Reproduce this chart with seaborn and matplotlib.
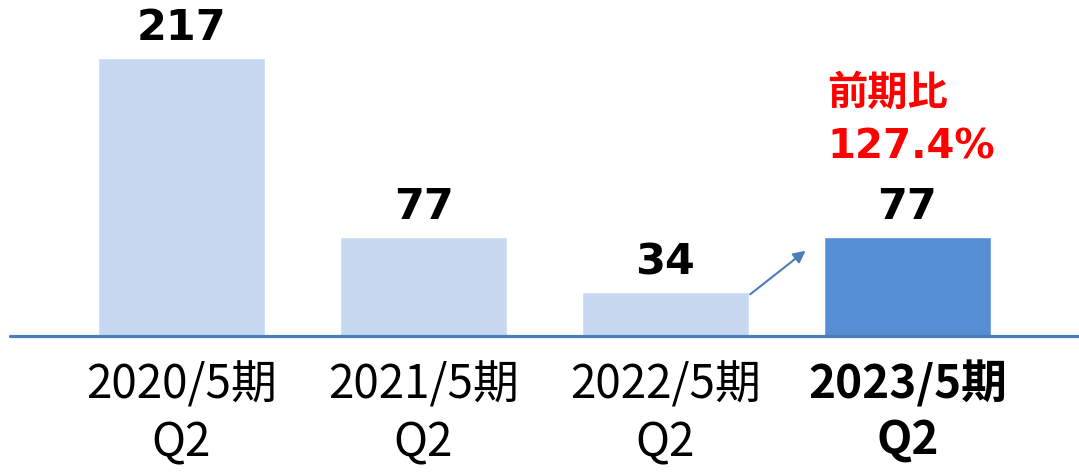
import matplotlib
matplotlib.use("Agg")
import matplotlib.pyplot as plt
import seaborn as sns


# Data

periods = ["2020/5期\nQ2", "2021/5期\nQ2", "2022/5期\nQ2", "2023/5期\nQ2"]
values = [217, 77, 34, 77]
bar_colors = ["#C6D9F1", "#C6D9F1", "#C6D9F1", "#558ED5"]
ratio_label = "前期比\n127.4%"


sns.set_theme(style="white")
plt.rcParams['font.family'] = ['DejaVu Sans', 'Noto Sans CJK JP']

W, H = 1079, 472
fig = plt.figure(figsize=(W / 100, H / 100), dpi=100)
ax = fig.add_axes([10 / W, 136 / H, 1069 / W, 336 / H])

sns.barplot(x=periods, y=values, hue=periods, palette=bar_colors,
            legend=False, width=0.69, saturation=1, ax=ax)

ax.set_xlim(-0.709, 3.709)
ax.set_ylim(0, 262.3)
for s in ax.spines.values():
    s.set_visible(False)
ax.set_yticks([])
ax.set_xlabel("")
ax.set_ylabel("")

# baseline
ax.axhline(0, color="#4A7EBB", lw=2.3, zorder=5, clip_on=False)

# value labels
for i, v in enumerate(values):
    ax.annotate(str(v), (i, v), xytext=(0, 9), textcoords="offset pixels",
                ha="center", va="bottom", fontsize=31, fontweight="bold",
                color="black")

# tick labels
ax.tick_params(axis="x", length=0, pad=18)
for i, lab in enumerate(ax.get_xticklabels()):
    lab.set_fontfamily(['Noto Sans CJK JP', 'DejaVu Sans'])
    lab.set_fontsize(33)
    lab.set_linespacing(1.26)
    lab.set_color("black")
    if i == len(periods) - 1:
        lab.set_fontweight("bold")

# growth arrow and ratio text
ax.annotate("", xy=(2.588, 67.9), xytext=(2.341, 31.2),
            arrowprops=dict(arrowstyle="-|>", color="#4A7EBB", lw=1.5,
                            mutation_scale=18))
ax.text(2.67, 205, ratio_label, ha="left", va="top", fontsize=29,
        fontweight="bold", color="#FF0000", linespacing=1.45,
        family=['DejaVu Sans', 'Noto Sans CJK JP'])

fig.savefig("out.png", dpi=100)
